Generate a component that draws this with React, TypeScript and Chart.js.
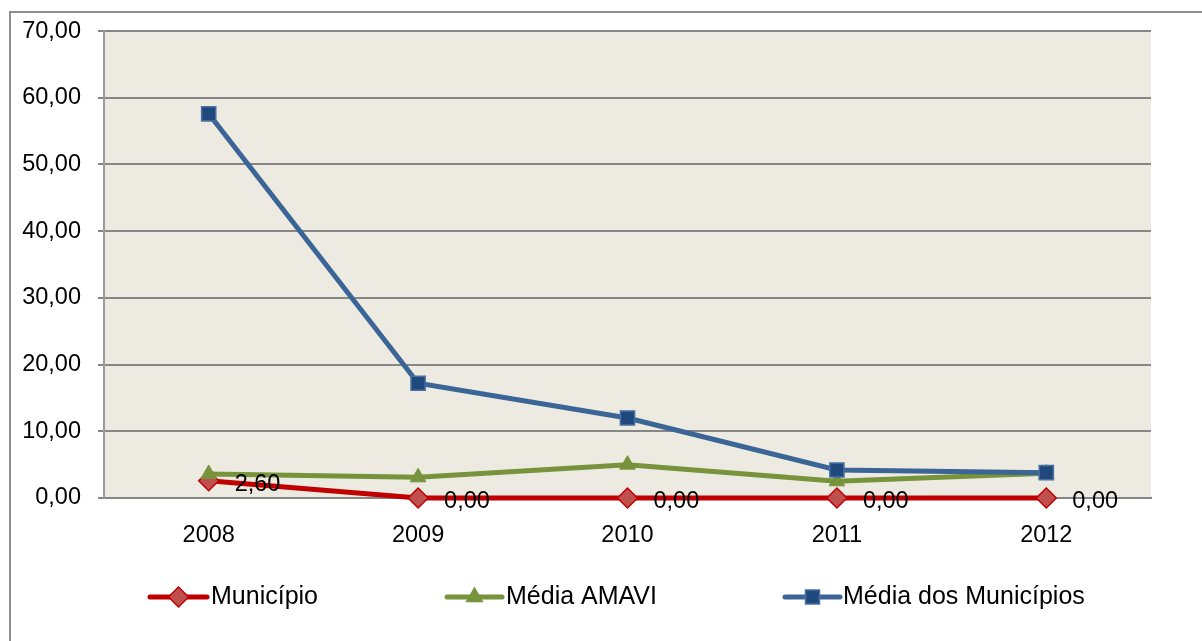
import React, { useEffect, useRef } from 'react';
import { Chart, registerables } from 'chart.js';

Chart.register(...registerables);

const years = ['2008', '2009', '2010', '2011', '2012'];
const municipio = [2.6, 0, 0, 0, 0];
const mediaAmavi = [3.6, 3.1, 5.0, 2.5, 3.7];
const mediaMunicipios = [57.6, 17.2, 12.0, 4.2, 3.8];
const seriesNames = ['Município', 'Média AMAVI', 'Média dos Municípios'];
const yMin = 0;
const yMax = 70;
const yStep = 10;

const FONT = "'Liberation Sans', Arial, sans-serif";
const FS = 23.5;
const LFS = 25;

const fmt = (v: number) => v.toFixed(2).replace('.', ',');

const styles = [
  { line: '#C00000', fill: '#C0504D', border: '#C00000', shape: 'diamond' },
  { line: '#77933C', fill: '#77933C', border: '#77933C', shape: 'triangle' },
  { line: '#3A6596', fill: '#1F497D', border: '#4A6FA0', shape: 'square' },
];

function drawMarker(ctx: CanvasRenderingContext2D, shape: string, x: number, y: number, fill: string, stroke: string) {
  ctx.save();
  ctx.beginPath();
  if (shape === 'diamond') {
    const r = 10;
    ctx.moveTo(x, y - r);
    ctx.lineTo(x + r, y);
    ctx.lineTo(x, y + r);
    ctx.lineTo(x - r, y);
  } else if (shape === 'triangle') {
    const r = 9;
    ctx.moveTo(x, y - r);
    ctx.lineTo(x + r * 0.866, y + r * 0.5);
    ctx.lineTo(x - r * 0.866, y + r * 0.5);
  } else {
    const s = 7;
    ctx.rect(x - s, y - s, 2 * s, 2 * s);
  }
  ctx.closePath();
  ctx.fillStyle = fill;
  ctx.fill();
  ctx.lineWidth = 1.5;
  ctx.strokeStyle = stroke;
  ctx.stroke();
  ctx.restore();
}

const bgPlugin = {
  id: 'plotBg',
  beforeDraw(chart: any) {
    const { ctx, chartArea } = chart;
    ctx.save();
    ctx.fillStyle = '#EDEBE1';
    ctx.fillRect(chartArea.left, chartArea.top, chartArea.right - chartArea.left, chartArea.bottom - chartArea.top);
    ctx.restore();
  },
};

const labelPlugin = {
  id: 'dataLabels',
  afterDatasetsDraw(chart: any) {
    const ctx = chart.ctx;
    const idx = chart.data.datasets.findIndex((d: any) => d.label === seriesNames[0]);
    const meta = chart.getDatasetMeta(idx);
    ctx.save();
    ctx.font = `${FS}px ${FONT}`;
    ctx.fillStyle = '#000';
    ctx.textAlign = 'left';
    ctx.textBaseline = 'middle';
    meta.data.forEach((pt: any, i: number) => {
      ctx.fillText(fmt(municipio[i]), pt.x + 26, pt.y + 4);
    });
    ctx.restore();
  },
};

const legendItems = [
  { x1: 150, x2: 207, tx: 211 },
  { x1: 447, x2: 502, tx: 506 },
  { x1: 785, x2: 840, tx: 843 },
];

const legendPlugin = {
  id: 'customLegend',
  afterDraw(chart: any) {
    const ctx = chart.ctx;
    const y = 597;
    legendItems.forEach((it, i) => {
      const st = styles[i];
      ctx.save();
      ctx.strokeStyle = st.line;
      ctx.lineWidth = 5;
      ctx.lineCap = 'round';
      ctx.beginPath();
      ctx.moveTo(it.x1, y);
      ctx.lineTo(it.x2, y);
      ctx.stroke();
      ctx.restore();
      drawMarker(ctx, st.shape, (it.x1 + it.x2) / 2, y, st.fill, st.border);
      ctx.save();
      ctx.font = `${LFS}px ${FONT}`;
      ctx.fillStyle = '#000';
      ctx.textAlign = 'left';
      ctx.textBaseline = 'middle';
      ctx.fillText(seriesNames[i], it.tx, y);
      ctx.restore();
    });
  },
};

export default function App() {
  const ref = useRef<HTMLCanvasElement | null>(null);

  useEffect(() => {
    if (!ref.current) return;
    const chart = new Chart(ref.current, {
      type: 'line',
      data: {
        labels: years,
        datasets: [
          {
            label: seriesNames[0],
            data: municipio,
            borderColor: styles[0].line,
            borderWidth: 5,
            pointStyle: 'rectRot',
            pointRadius: 10,
            pointBackgroundColor: styles[0].fill,
            pointBorderColor: styles[0].border,
            pointBorderWidth: 1.5,
            tension: 0,
            clip: false,
            order: 3,
          },
          {
            label: seriesNames[1],
            data: mediaAmavi,
            borderColor: styles[1].line,
            borderWidth: 5,
            pointStyle: 'triangle',
            pointRadius: 9,
            pointBackgroundColor: styles[1].fill,
            pointBorderColor: styles[1].border,
            pointBorderWidth: 1,
            tension: 0,
            clip: false,
            order: 2,
          },
          {
            label: seriesNames[2],
            data: mediaMunicipios,
            borderColor: styles[2].line,
            borderWidth: 5,
            pointStyle: 'rect',
            pointRadius: 10,
            pointBackgroundColor: styles[2].fill,
            pointBorderColor: styles[2].border,
            pointBorderWidth: 1.5,
            tension: 0,
            clip: false,
            order: 1,
          },
        ],
      },
      options: {
        animation: false,
        responsive: true,
        maintainAspectRatio: false,
        layout: { padding: { left: 0, right: 51, top: 29, bottom: 63 } },
        plugins: {
          legend: { display: false },
          tooltip: { enabled: false },
        },
        scales: {
          x: {
            offset: true,
            grid: { display: false },
            border: { display: true, color: '#868686', width: 2 },
            ticks: {
              color: '#000',
              font: { family: FONT, size: FS },
              padding: 15,
              maxRotation: 0,
            },
            afterFit: (s: any) => {
              s.height = 80;
            },
          },
          y: {
            min: yMin,
            max: yMax,
            grid: { color: '#868686', lineWidth: 2, tickLength: 6, drawTicks: true },
            border: { display: true, color: '#9A9A9A', width: 2 },
            ticks: {
              stepSize: yStep,
              color: '#000',
              font: { family: FONT, size: FS },
              padding: 17,
              callback: (v: any) => fmt(Number(v)),
            },
            afterFit: (s: any) => {
              s.width = 104;
            },
          },
        },
      },
      plugins: [bgPlugin, labelPlugin, legendPlugin],
    });
    return () => chart.destroy();
  }, []);

  return (
    <div style={{ position: 'fixed', left: 0, top: 0, width: 1202, height: 641, overflow: 'hidden', background: '#fff' }}>
      <div
        style={{
          position: 'absolute',
          left: 9,
          top: 11,
          width: 1250,
          height: 700,
          border: '2px solid #8E8E8E',
          boxSizing: 'border-box',
        }}
      />
      <div style={{ position: 'absolute', left: 0, top: 0, width: 1202, height: 641 }}>
        <canvas ref={ref} />
      </div>
    </div>
  );
}
